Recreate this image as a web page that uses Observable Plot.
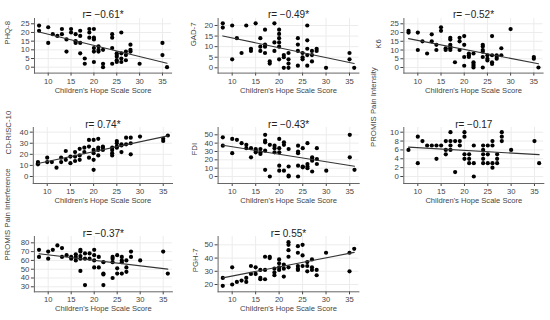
<!DOCTYPE html>
<html>
<head>
<meta charset="utf-8">
<script src="https://cdn.jsdelivr.net/npm/d3@7"></script>
<script src="https://cdn.jsdelivr.net/npm/@observablehq/plot@0.6"></script>
<style>
  html, body { margin: 0; padding: 0; background: #fff; }
  #chart { position: relative; width: 550px; height: 320px; background: #fff; overflow: hidden; }
</style>
</head>
<body>
<div id="chart"></div>
<script>
// ---- Data: [Children's Hope Scale Score, outcome] ----
const xLabel = "Children's Hope Scale Score";
const xTicks = [10, 15, 20, 25, 30, 35];

const phq8 = [[8,24],[8,21],[10,23],[10,14],[11,19],[12,18],[13,22],[13,19],[14,16],[14,9],[15,22],[15,20],[16,19],[16,15],[16,14],[17,21],[17,18],[17,14],[17,8],[18,5],[18,2],[19,22],[19,20],[19,17],[20,22],[20,17],[20,16],[20,11],[20,9],[20,3],[21,12],[21,10],[21,9],[22,10],[22,2],[22,0],[24,19],[24,17],[24,11],[24,2],[25,8],[25,7],[25,6],[25,4],[25,3],[26,20],[26,8],[26,5],[26,3],[27,9],[27,7],[27,4],[28,13],[28,10],[28,9],[30,2],[35,14],[35,7],[36,0]];

const gad7 = [[8,21],[8,19],[10,20],[10,4],[11,14],[12,7],[13,20],[14,9],[14,8],[15,21],[16,14],[16,10],[16,8],[17,18],[17,11],[17,10],[17,7],[18,3],[18,2],[19,21],[19,12],[19,8],[20,18],[20,16],[20,14],[20,12],[20,10],[20,4],[21,6],[21,5],[21,0],[22,7],[22,4],[22,2],[22,0],[24,14],[24,11],[24,8],[24,1],[25,7],[25,5],[25,4],[26,20],[26,13],[26,9],[26,6],[26,1],[27,8],[27,6],[27,3],[28,9],[28,8],[30,0],[35,7],[35,4],[36,0]];

const k6 = [[8,21],[8,20],[10,20],[10,10],[11,15],[12,8],[13,19],[13,15],[14,13],[14,10],[15,23],[15,21],[16,11],[16,10],[17,17],[17,16],[17,13],[17,12],[17,11],[17,10],[18,3],[19,17],[19,15],[19,10],[20,18],[20,13],[20,6],[20,1],[21,8],[21,7],[21,6],[22,8],[22,3],[22,2],[22,1],[22,0],[24,13],[24,12],[24,10],[24,9],[24,6],[24,0],[25,7],[25,5],[25,4],[26,18],[26,7],[26,3],[26,2],[27,7],[27,6],[27,5],[28,11],[28,7],[30,22],[35,6],[35,5],[36,0]];

const cdrisc10 = [[8,13],[8,12],[8,11],[10,17],[10,13],[11,13],[12,8],[13,17],[13,13],[14,23],[14,15],[15,18],[15,12],[16,22],[16,18],[16,14],[17,25],[17,19],[17,15],[18,26],[18,22],[19,33],[19,27],[19,17],[20,33],[20,24],[20,21],[20,15],[20,6],[21,34],[21,26],[21,24],[21,19],[22,27],[22,26],[22,24],[24,26],[24,24],[24,21],[24,19],[25,32],[25,30],[25,27],[25,26],[26,29],[26,28],[26,22],[27,35],[27,29],[28,35],[28,30],[28,20],[30,36],[35,34],[35,32],[36,37]];

const fdi = [[8,47],[8,37],[10,45],[10,28],[11,44],[12,40],[13,38],[13,34],[14,34],[14,23],[15,33],[15,31],[15,29],[16,33],[16,29],[16,27],[17,50],[17,43],[17,41],[17,31],[17,8],[18,38],[18,0],[19,37],[19,34],[19,29],[20,45],[20,34],[20,29],[20,13],[20,7],[21,41],[21,38],[21,7],[22,33],[22,12],[22,1],[22,0],[24,37],[24,30],[24,28],[24,13],[24,0],[25,34],[25,12],[25,11],[26,40],[26,15],[26,12],[26,10],[27,23],[27,21],[27,19],[27,6],[28,34],[28,21],[28,15],[30,7],[35,50],[35,23],[36,8]];

const painIntensity = [[8,6],[10,9],[10,3],[11,8],[12,7],[13,7],[14,7],[14,4],[15,7],[16,8],[16,6],[16,5],[17,10],[17,8],[17,7],[17,6],[18,8],[18,1],[19,8],[19,7],[20,10],[20,9],[20,5],[20,4],[21,5],[21,4],[21,3],[22,7],[22,3],[22,0],[24,7],[24,6],[24,5],[24,4],[24,3],[25,7],[25,5],[25,3],[26,8],[26,7],[26,3],[26,2],[27,5],[27,4],[27,3],[28,10],[28,9],[28,8],[30,6],[35,8],[36,3]];

const painInterference = [[8,72],[8,64],[10,70],[10,62],[11,72],[12,77],[13,74],[13,64],[14,66],[15,64],[15,62],[16,67],[16,64],[16,60],[17,72],[17,70],[17,65],[17,62],[17,48],[18,68],[18,62],[18,32],[19,68],[19,62],[20,72],[20,66],[20,60],[20,52],[21,64],[21,52],[22,58],[22,45],[22,44],[22,32],[24,64],[24,62],[24,58],[24,40],[25,66],[25,51],[25,45],[26,64],[26,60],[26,58],[26,45],[27,60],[27,52],[27,47],[28,70],[28,64],[30,60],[35,70],[36,45]];

const pgh7 = [[8,25],[8,19],[10,33],[10,20],[11,22],[12,23],[13,25],[13,22],[14,34],[14,28],[15,33],[15,28],[16,31],[16,25],[16,24],[17,41],[17,31],[17,24],[18,41],[18,40],[19,32],[19,29],[19,27],[20,39],[20,36],[20,33],[20,31],[21,35],[21,32],[21,26],[22,52],[22,50],[22,46],[22,41],[22,33],[24,49],[24,44],[24,34],[24,32],[24,31],[25,50],[25,42],[25,34],[26,37],[26,34],[26,30],[27,39],[27,33],[27,31],[28,31],[28,27],[30,44],[35,44],[35,30],[36,47]];

// ---- Panel definitions (content) ----
const panels = [
  {label: "PHQ-8", title: "r= \u22120.61*", data: phq8, yTicks: [0,5,10,15,20,25]},
  {label: "GAD-7", title: "r= \u22120.49*", data: gad7, yTicks: [0,5,10,15,20]},
  {label: "K6", title: "r= \u22120.52*", data: k6, yTicks: [0,5,10,15,20,25]},
  {label: "CD-RISC-10", title: "r= 0.74*", data: cdrisc10, yTicks: [0,10,20,30,40]},
  {label: "FDI", title: "r= \u22120.43*", data: fdi, yTicks: [0,10,20,30,40,50]},
  {label: "PROMIS Pain Intensity", title: "r= \u22120.17", data: painIntensity, yTicks: [0,2,4,6,8,10]},
  {label: "PROMIS Pain Interference", title: "r= \u22120.37*", data: painInterference, yTicks: [30,40,50,60,70,80]},
  {label: "PGH-7", title: "r= 0.55*", data: pgh7, yTicks: [20,30,40,50]}
];

// ---- Layout (pixels / scale extents) ----
const rows = [
  {top: 0,   h: 105, frameTop: 18,  frameBottom: 72.6,  titleDy: -7.3, xLabelDy: 19.4, tickPad: 2.4},
  {top: 105, h: 105, frameTop: 127, frameBottom: 183,   titleDy: -7,   xLabelDy: 19,   tickPad: 1.8},
  {top: 210, h: 110, frameTop: 236, frameBottom: 291.3, titleDy: -7,   xLabelDy: 19.4, tickPad: 2.2}
];
const cols = [{left: 0, w: 183}, {left: 183, w: 183}, {left: 366, w: 184}];
const layout = [
  {row: 0, col: 0, fl: 34.0,  fr: 171.1, yDomain: [-3.4, 28.05], yLabDx: -27,   yLabDy: -1},
  {row: 0, col: 1, fl: 217.6, fr: 358.4, yDomain: [-2.5, 23.3],  yLabDx: -24.3, yLabDy: 0.5},
  {row: 0, col: 2, fl: 403.4, fr: 542.6, yDomain: [-3.2, 28.03], yLabDx: -25,   yLabDy: 3},
  {row: 1, col: 0, fl: 32.8,  fr: 172.0, yDomain: [-6.32, 44.2], yLabDx: -24.5, yLabDy: -1},
  {row: 1, col: 1, fl: 217.6, fr: 358.7, yDomain: [-8.39, 58.75],yLabDx: -23.6, yLabDy: 0},
  {row: 1, col: 2, fl: 403.3, fr: 543.3, yDomain: [-1.58, 11.06],yLabDx: -30,   yLabDy: -8.5},
  {row: 2, col: 0, fl: 33.9,  fr: 171.9, yDomain: [24.3, 87.2],  yLabDx: -27,   yLabDy: -3.5},
  {row: 2, col: 1, fl: 217.6, fr: 358.4, yDomain: [14.5, 56.3],  yLabDx: -22.6, yLabDy: 8}
];

const FONT = "'Liberation Sans', Arial, Helvetica, sans-serif";
const chart = document.getElementById("chart");

panels.forEach((p, i) => {
  const L = layout[i], R = rows[L.row], C = cols[L.col];
  const svg = Plot.plot({
    width: C.w,
    height: R.h,
    marginLeft: L.fl - C.left,
    marginRight: C.left + C.w - L.fr,
    marginTop: R.frameTop - R.top,
    marginBottom: R.top + R.h - R.frameBottom,
    style: {position: "absolute", left: C.left + "px", top: R.top + "px", fontFamily: FONT, background: "transparent", overflow: "visible"},
    x: {domain: [7, 37]},
    y: {domain: L.yDomain},
    marks: [
      Plot.gridX(xTicks, {stroke: "#ececec", strokeOpacity: 1}),
      Plot.gridY(p.yTicks, {stroke: "#ececec", strokeOpacity: 1}),
      Plot.axisX({ticks: xTicks, tickSize: 3, tickPadding: R.tickPad, fontSize: 7.6, label: null, color: "#444"}),
      Plot.axisY({ticks: p.yTicks, tickSize: 3, tickPadding: 2, fontSize: 7.8, label: null, color: "#444"}),
      Plot.frame({anchor: "left", stroke: "#666"}),
      Plot.frame({anchor: "bottom", stroke: "#666"}),
      Plot.dot(p.data, {x: d => d[0], y: d => d[1], r: 2.1, fill: "#000", stroke: "none"}),
      Plot.linearRegressionY(p.data, {x: d => d[0], y: d => d[1], ci: 0, stroke: "#333", strokeWidth: 1.1}),
      Plot.text([p.title], {frameAnchor: "top", dy: R.titleDy, fontSize: 10, fill: "#222"}),
      Plot.text([xLabel], {frameAnchor: "bottom", dy: R.xLabelDy, fontSize: 7.6, fill: "#444"}),
      Plot.text([p.label], {frameAnchor: "left", rotate: -90, dx: L.yLabDx, dy: L.yLabDy, fontSize: 7.8, fill: "#444"})
    ]
  });
  chart.appendChild(svg);
});
</script>
</body>
</html>
